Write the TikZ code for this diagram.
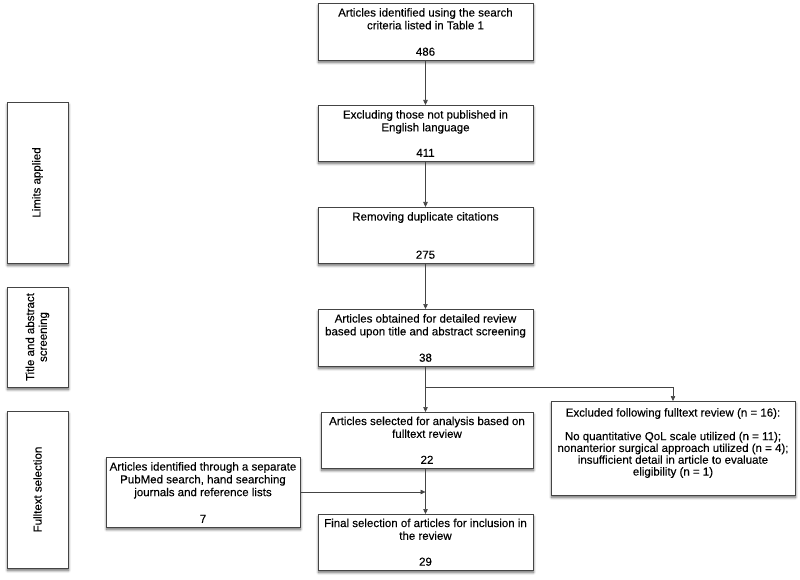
\documentclass[tikz,border=0pt]{standalone}
\usepackage{fontspec}
\setmainfont{Liberation Sans}[FakeBold=0.2]
\usetikzlibrary{arrows.meta,shadows.blur}
\definecolor{lineg}{HTML}{444444}
\begin{document}
\begin{tikzpicture}[x=1pt,y=-1pt,
  box/.style={draw=lineg,line width=0.7pt,fill=white,inner sep=0pt,outer sep=0pt,
    blur shadow={shadow xshift=0.5pt,shadow yshift=-2.5pt,shadow blur steps=8,shadow opacity=60,shadow blur radius=2.5pt}},
  txt/.style={align=center,inner sep=0pt,font=\fontsize{11.5}{12.8}\selectfont,text=black},
  arr/.style={draw=lineg,line width=0.6pt,-{Triangle[width=4.5pt,length=5pt]}},
  ln/.style={draw=lineg,line width=0.6pt}]
\useasboundingbox (0,0) rectangle (800,580);
% main column boxes
\node[box,minimum width=215,minimum height=57] (b1) at (425.5,31.5) {};
\node[box,minimum width=215,minimum height=56] (b2) at (425.5,133) {};
\node[box,minimum width=215,minimum height=56] (b3) at (425.5,235) {};
\node[box,minimum width=215,minimum height=57] (b4) at (425.5,337.5) {};
\node[box,minimum width=212,minimum height=56] (b5) at (427,440) {};
\node[box,minimum width=215,minimum height=56] (b6) at (425.5,542) {};
\node[box,minimum width=194,minimum height=70] (pm) at (203,492) {};
\node[box,minimum width=244,minimum height=94] (ex) at (673,448) {};
% side boxes
\node[box,minimum width=61,minimum height=161] (s1) at (37.5,182.5) {};
\node[box,minimum width=61,minimum height=100] (s2) at (37.5,337) {};
\node[box,minimum width=61,minimum height=157] (s3) at (37.5,489.5) {};
% texts
\node[txt,anchor=north] (t1) at ([yshift=-5pt]b1.north) {Articles identified using the search\\criteria listed in Table 1};
\node[txt,anchor=south] (n1) at ([yshift=4pt]b1.south) {486};
\node[txt,anchor=north] (t2) at ([yshift=-5pt]b2.north) {Excluding those not published in\\English language};
\node[txt,anchor=south] (n2) at ([yshift=4pt]b2.south) {411};
\node[txt,anchor=north] (t3) at ([yshift=-5pt]b3.north) {Removing duplicate citations};
\node[txt,anchor=south] (n3) at ([yshift=4pt]b3.south) {275};
\node[txt,anchor=north] (t4) at ([yshift=-5pt]b4.north) {Articles obtained for detailed review\\based upon title and abstract screening};
\node[txt,anchor=south] (n4) at ([yshift=4pt]b4.south) {38};
\node[txt,anchor=north] (t5) at ([yshift=-4.5pt]b5.north) {Articles selected for analysis based on\\fulltext review};
\node[txt,anchor=south] (n5) at ([yshift=4pt]b5.south) {22};
\node[txt,anchor=north] (t6) at ([yshift=-4.5pt]b6.north) {Final selection of articles for inclusion in\\the review};
\node[txt,anchor=south] (n6) at ([yshift=4pt]b6.south) {29};
\node[txt,anchor=north] (tp) at ([yshift=-5pt]pm.north) {Articles identified through a separate\\PubMed search, hand searching\\journals and reference lists};
\node[txt,anchor=south] (np) at ([yshift=4pt]pm.south) {7};
\node[txt,anchor=north,font=\fontsize{11.5}{11.8}\selectfont] (te) at ([yshift=-7pt]ex.north) {Excluded following fulltext review (n = 16):\\[11.8pt]No quantitative QoL scale utilized (n = 11);\\nonanterior surgical approach utilized (n = 4);\\insufficient detail in article to evaluate\\eligibility (n = 1)};
\node[txt,rotate=90] (ts1) at (s1.center) {Limits applied};
\node[txt,rotate=90] (ts2) at (s2.center) {Title and abstract\\screening};
\node[txt,rotate=90] (ts3) at (s3.center) {Fulltext selection};
% connectors
\coordinate (br) at (425.5,387);
\coordinate (jn) at (425.5,492);
\draw[arr] (b1.south) -- (b2.north);
\draw[arr] (b2.south) -- (b3.north);
\draw[arr] (b3.south) -- (b4.north);
\draw[ln] (b4.south) -- (br);
\draw[arr] (br) -- (br |- b5.north);
\draw[arr] (br) -| (ex.north);
\draw[arr] (b5.south -| br) -- (b6.north);
\draw[arr] (pm.east |- jn) -- (jn);
\end{tikzpicture}
\end{document}
